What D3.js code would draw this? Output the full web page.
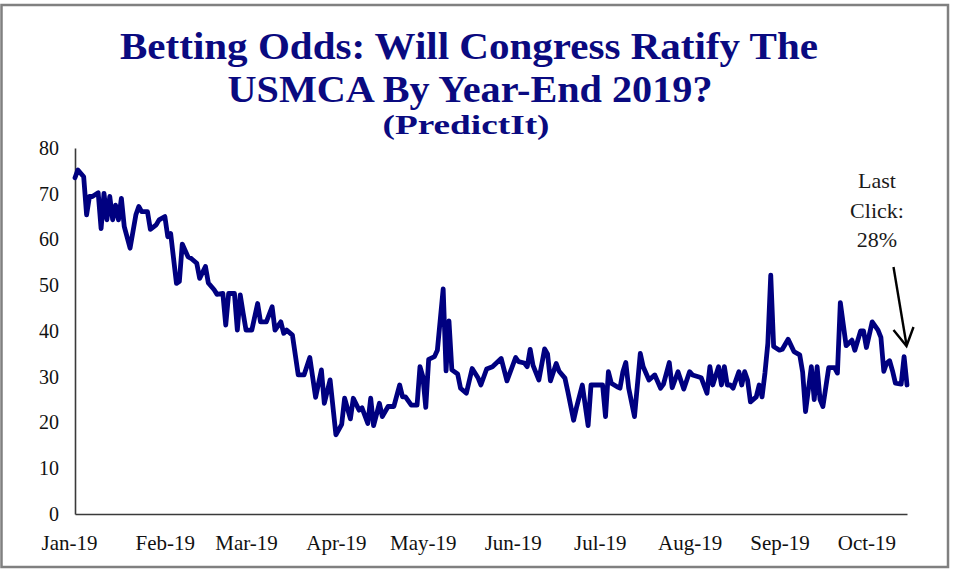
<!DOCTYPE html>
<html><head><meta charset="utf-8">
<script src="https://cdn.jsdelivr.net/npm/d3@7"></script>
<style>body{margin:0;background:#fff;} svg{display:block;}</style>
</head><body>
<svg id="chart" width="953" height="572"></svg>
<script>
const dates = [
"2019-01-01","2019-01-02","2019-01-04","2019-01-05","2019-01-06","2019-01-07","2019-01-09","2019-01-10","2019-01-11","2019-01-12",
"2019-01-13","2019-01-14","2019-01-15","2019-01-16","2019-01-17","2019-01-18","2019-01-20","2019-01-22","2019-01-23","2019-01-24",
"2019-01-26","2019-01-27","2019-01-29","2019-01-30","2019-02-01","2019-02-02","2019-02-03","2019-02-05","2019-02-06","2019-02-07",
"2019-02-09","2019-02-10","2019-02-12","2019-02-13","2019-02-15","2019-02-16","2019-02-18","2019-02-19","2019-02-21","2019-02-22",
"2019-02-23","2019-02-25","2019-02-26","2019-02-27","2019-02-28","2019-03-01","2019-03-03","2019-03-05","2019-03-06","2019-03-08",
"2019-03-10","2019-03-11","2019-03-13","2019-03-14","2019-03-15","2019-03-17","2019-03-19","2019-03-21","2019-03-23","2019-03-25",
"2019-03-27","2019-03-28","2019-03-30","2019-04-01","2019-04-03","2019-04-04","2019-04-06","2019-04-07","2019-04-09","2019-04-10",
"2019-04-12","2019-04-13","2019-04-14","2019-04-16","2019-04-17","2019-04-19","2019-04-21","2019-04-23","2019-04-24","2019-04-25",
"2019-04-27","2019-04-29","2019-04-30","2019-05-01","2019-05-02","2019-05-03","2019-05-05","2019-05-06","2019-05-08","2019-05-09",
"2019-05-10","2019-05-11","2019-05-13","2019-05-14","2019-05-16","2019-05-18","2019-05-20","2019-05-21","2019-05-23","2019-05-25",
"2019-05-28","2019-05-30","2019-06-02","2019-06-03","2019-06-05","2019-06-06","2019-06-07","2019-06-08","2019-06-10","2019-06-12",
"2019-06-13","2019-06-14","2019-06-16","2019-06-17","2019-06-19","2019-06-20","2019-06-22","2019-06-23","2019-06-25","2019-06-27",
"2019-06-28","2019-06-30","2019-07-02","2019-07-03","2019-07-04","2019-07-05","2019-07-07","2019-07-08","2019-07-09","2019-07-10",
"2019-07-11","2019-07-13","2019-07-15","2019-07-16","2019-07-18","2019-07-20","2019-07-22","2019-07-23","2019-07-25","2019-07-26",
"2019-07-28","2019-07-30","2019-08-01","2019-08-02","2019-08-04","2019-08-05","2019-08-07","2019-08-08","2019-08-09","2019-08-11",
"2019-08-12","2019-08-13","2019-08-14","2019-08-15","2019-08-16","2019-08-18","2019-08-19","2019-08-20","2019-08-21","2019-08-22",
"2019-08-24","2019-08-25","2019-08-26","2019-08-27","2019-08-28","2019-08-29","2019-08-30","2019-09-01","2019-09-02","2019-09-04",
"2019-09-06","2019-09-08","2019-09-09","2019-09-10","2019-09-12","2019-09-13","2019-09-14","2019-09-15","2019-09-16","2019-09-18",
"2019-09-20","2019-09-21","2019-09-22","2019-09-24","2019-09-26","2019-09-27","2019-09-29","2019-09-30","2019-10-01","2019-10-03",
"2019-10-05","2019-10-06","2019-10-07","2019-10-08","2019-10-09","2019-10-10","2019-10-11","2019-10-13","2019-10-14","2019-10-15"
];
const values = [
73.5,75.2,73.7,65.4,69.4,69.4,70.2,62.4,70.1,64.3,
69.4,64.3,67.5,64.3,69.0,62.8,58.1,65.4,67.2,66.1,
66.1,62.2,63.2,64.3,65.0,60.6,61.3,50.4,50.8,59.0,
56.2,55.9,54.8,51.5,54.1,50.5,49.0,48.0,48.2,41.3,
48.2,48.2,40.2,47.9,43.9,40.2,40.2,46.0,42.0,42.0,
45.3,40.2,42.0,39.5,40.2,39.1,30.4,30.4,34.2,25.5,
31.5,24.2,29.3,17.3,19.6,25.3,20.8,25.3,22.7,23.2,
19.8,25.3,19.3,24.2,21.3,23.5,23.5,28.2,25.6,25.6,
23.8,23.8,32.2,30.0,23.3,33.8,34.4,35.8,49.2,31.3,
42.2,31.5,30.6,27.5,26.4,31.8,29.8,28.2,31.7,32.2,
34.0,29.1,34.2,33.3,33.0,32.2,36.0,32.5,29.3,36.1,
35.0,29.1,32.9,31.2,29.7,26.8,20.5,23.3,28.2,19.3,
28.2,28.2,28.2,21.3,31.1,28.6,27.8,27.5,31.1,33.1,
27.5,21.3,35.1,32.2,29.3,30.4,27.5,28.4,33.1,27.6,
31.1,27.3,31.1,30.4,30.0,29.8,26.4,32.2,28.2,32.2,
28.2,32.2,28.2,28.2,27.5,31.1,28.2,31.1,29.3,24.5,
25.6,28.2,25.6,30.8,37.3,52.2,36.6,35.8,36.0,38.2,
35.5,34.8,31.0,22.4,32.2,25.0,32.2,25.0,23.5,32.0,
32.0,30.8,46.2,36.8,38.0,35.8,40.0,40.0,36.4,42.0,
40.2,38.6,31.2,33.0,33.5,31.3,28.6,28.4,34.4,28.2
];
const yTicks = [0,10,20,30,40,50,60,70,80];
const monthTicks = ["2019-01-01","2019-02-01","2019-03-01","2019-04-01","2019-05-01","2019-06-01","2019-07-01","2019-08-01","2019-09-01","2019-10-01"];
const xDomain = ["2019-01-01","2019-10-15"];
const titleLines = ["Betting Odds: Will Congress Ratify The","USMCA By Year-End 2019?","(PredictIt)"];
const annotationLines = ["Last","Click:","28%"];

const svg = d3.select("#chart");
const parse = d3.timeParse("%Y-%m-%d");
const data = dates.map((d, i) => ({date: parse(d), value: values[i]}));

const x = d3.scaleTime().domain(xDomain.map(parse)).range([75, 907]);
const y = d3.scaleLinear().domain([0, 80]).range([514, 148]);

// frame
svg.append("rect").attr("x", 1.5).attr("y", 5).attr("width", 946.5).attr("height", 562)
  .attr("fill", "#fff").attr("stroke", "#808080").attr("stroke-width", 2.5);

// title
const titleSpec = [
  {y: 59, size: 38, len: 698, cx: 469},
  {y: 102, size: 38, len: 485, cx: 470},
  {y: 134, size: 28, len: 167, cx: 466}
];
svg.append("g").selectAll("text").data(titleLines).join("text")
  .attr("x", (d, i) => titleSpec[i].cx)
  .attr("y", (d, i) => titleSpec[i].y)
  .attr("text-anchor", "middle")
  .attr("font-family", "'Liberation Serif', 'DejaVu Serif', serif")
  .attr("font-weight", "bold")
  .attr("font-size", (d, i) => titleSpec[i].size)
  .attr("textLength", (d, i) => titleSpec[i].len)
  .attr("lengthAdjust", "spacingAndGlyphs")
  .attr("fill", "#0a0a80")
  .text(d => d);

// axes
const xAxis = d3.axisBottom(x).tickValues(monthTicks.map(parse)).tickSize(0).tickSizeOuter(0)
  .tickPadding(21).tickFormat(d3.timeFormat("%b-%y"));
const gx = svg.append("g").attr("transform", "translate(0,514)").call(xAxis);
gx.select(".domain").attr("stroke", "#3a3a3a").attr("stroke-width", 1.6);
gx.selectAll("text").attr("font-family", "'Liberation Serif', serif").attr("font-size", 21).attr("fill", "#111");
gx.selectAll(".tick").filter((d, i) => i === 0).select("text").attr("dx", -6);

const yAxis = d3.axisLeft(y).tickValues(yTicks).tickSize(0).tickSizeOuter(0).tickPadding(16);
const gy = svg.append("g").attr("transform", "translate(75,0)").call(yAxis);
gy.select(".domain").attr("stroke", "#3a3a3a").attr("stroke-width", 1.6);
gy.selectAll("text").attr("font-family", "'Liberation Serif', serif").attr("font-size", 20).attr("fill", "#111");

// line
const line = d3.line().x(d => x(d.date)).y(d => y(d.value)).curve(d3.curveLinear);
svg.append("path").datum(data).attr("d", line)
  .attr("fill", "none").attr("stroke", "#000080").attr("stroke-width", 4.8)
  .attr("stroke-linejoin", "round").attr("stroke-linecap", "round");

// annotation
svg.append("g").selectAll("text").data(annotationLines).join("text")
  .attr("x", 877).attr("y", (d, i) => 188 + i * 29.5)
  .attr("text-anchor", "middle")
  .attr("font-family", "'Liberation Serif', serif").attr("font-size", 22).attr("fill", "#1a1a1a")
  .text(d => d);
svg.append("path").attr("d", "M893.5,267 L906.5,345")
  .attr("stroke", "#000").attr("stroke-width", 2.4).attr("fill", "none");
svg.append("path").attr("d", "M893.5,330 L906.5,346 L913.5,327")
  .attr("stroke", "#000").attr("stroke-width", 2.4).attr("fill", "none").attr("stroke-linejoin", "miter");
</script>
</body></html>
